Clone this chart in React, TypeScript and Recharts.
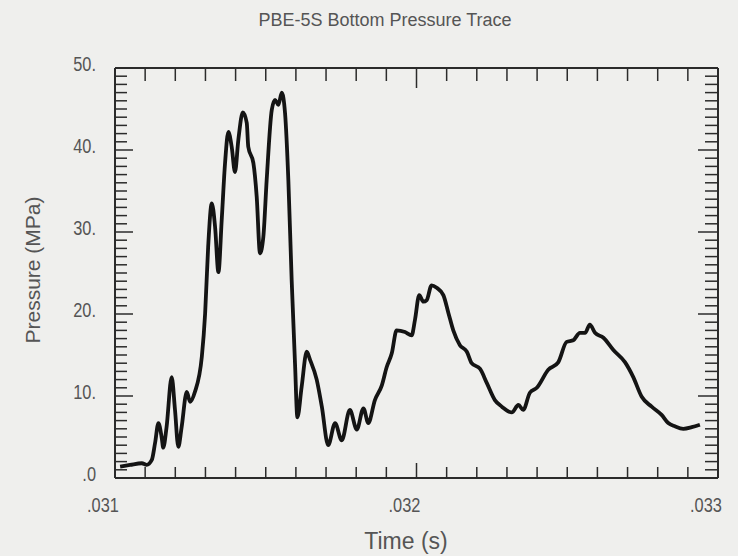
import { LineChart, Line, XAxis, YAxis } from 'recharts';

// trace: time (s) vs bottom pressure (MPa)
const timeS = [
  0.031017, 0.03105, 0.031089, 0.031105, 0.031122, 0.031133, 0.031144, 0.031155, 0.03116, 0.031171,
  0.031188, 0.031199, 0.03121, 0.031221, 0.031238, 0.031249, 0.031265, 0.031288, 0.031299, 0.031309,
  0.031321, 0.031332, 0.031343, 0.031354, 0.031365, 0.031376, 0.031387, 0.031398, 0.031409, 0.031424,
  0.031437, 0.031442, 0.031459, 0.03147, 0.031481, 0.031492, 0.031503, 0.03152, 0.031531, 0.031542,
  0.031553, 0.031564, 0.031575, 0.031586, 0.031597, 0.031605, 0.031619, 0.031636, 0.031647, 0.031669,
  0.031686, 0.031707, 0.03173, 0.031752, 0.031779, 0.031802, 0.031824, 0.03184, 0.031862, 0.031885,
  0.031901, 0.031918, 0.031934, 0.031962, 0.031984, 0.031995, 0.032009, 0.032023, 0.032034, 0.03205,
  0.032067, 0.032089, 0.032106, 0.032122, 0.032144, 0.032167, 0.032183, 0.032211, 0.032233, 0.03226,
  0.032283, 0.032316, 0.032338, 0.032354, 0.032376, 0.032399, 0.032437, 0.03247, 0.032498, 0.03252,
  0.032542, 0.032559, 0.032575, 0.032592, 0.03262, 0.032653, 0.032692, 0.032719, 0.032747, 0.03278,
  0.032813, 0.032835, 0.032857, 0.032885, 0.032913, 0.03294,
];

const pressureMPa = [
  1.4, 1.6, 1.8, 1.6, 2.2, 4.3, 6.7, 4.9, 3.7, 6.2,
  12.3, 8.3, 3.8, 6.2, 10.5, 9.3, 10.5, 14.8, 20.1, 28.2,
  33.5, 30.6, 25.1, 31.5, 38.4, 42.2, 40.4, 37.3, 41.2, 44.6,
  43.3, 40.4, 38.4, 34.3, 27.4, 29.4, 36.3, 44.9, 46.1, 45.5,
  47.0, 44.5, 36.3, 24.1, 14.0, 7.4, 11.1, 15.4, 14.4, 12.0,
  8.7, 4.0, 6.7, 4.6, 8.3, 5.9, 8.5, 6.7, 9.5, 11.3,
  13.5, 15.2, 18.0, 17.8, 17.4, 19.3, 22.3, 21.5, 21.7, 23.5,
  23.2, 22.3, 20.1, 18.0, 16.2, 15.4, 14.0, 13.3, 11.6, 9.5,
  8.7, 8.0, 8.9, 8.3, 10.4, 11.0, 13.2, 14.1, 16.6, 16.8,
  17.7, 17.7, 18.7, 17.7, 17.1, 15.6, 14.1, 12.3, 9.9, 8.7,
  7.7, 6.7, 6.3, 6.0, 6.2, 6.5,
];

const xTicks = [
  0.031, 0.0311, 0.0312, 0.0313, 0.0314, 0.0315, 0.0316, 0.0317, 0.0318, 0.0319, 0.032,
  0.0321, 0.0322, 0.0323, 0.0324, 0.0325, 0.0326, 0.0327, 0.0328, 0.0329, 0.033,
];
const xLabelTicks = [0.031, 0.032, 0.033];
const xLabels = ['.031', '.032', '.033'];

const yTicks = [
  0, 1, 2, 3, 4, 5, 6, 7, 8, 9, 10, 11, 12, 13, 14, 15, 16, 17, 18, 19, 20, 21, 22, 23, 24, 25,
  26, 27, 28, 29, 30, 31, 32, 33, 34, 35, 36, 37, 38, 39, 40, 41, 42, 43, 44, 45, 46, 47, 48, 49, 50,
];
const yLabelTicks = [0, 10, 20, 30, 40, 50];
const yLabels = ['.0', '10.', '20.', '30.', '40.', '50.'];

const data = timeS.map((t, i) => ({ t, p: pressureMPa[i] }));

const INK = '#2b2b2b';
const TEXT = '#555555';
const FONT = "'Liberation Sans', Arial, sans-serif";

const xLabelIndex = (v: number) => xLabelTicks.findIndex((m) => Math.abs(m - v) < 1e-9);
const yLabelIndex = (v: number) => yLabelTicks.indexOf(v);

// the scanned tick labels use a tall condensed face; squeeze a regular one
function NarrowText({ x, y, anchor, children }: { x: number; y: number; anchor: 'middle' | 'end'; children: string }) {
  return (
    <text
      transform={`translate(${x},${y}) scale(0.78,1)`}
      textAnchor={anchor}
      fill={TEXT}
      fontSize={21}
      fontFamily={FONT}
    >
      {children}
    </text>
  );
}

function BottomTick(props: any) {
  const { x, y, payload } = props;
  const idx = xLabelIndex(payload.value);
  const len = idx === 1 ? 15 : 11;
  return (
    <g>
      <line x1={x} y1={y} x2={x} y2={y - len} stroke={INK} strokeWidth={1.5} />
      {idx >= 0 && (
        <NarrowText x={x - 12} y={y + 34} anchor="middle">
          {xLabels[idx]}
        </NarrowText>
      )}
    </g>
  );
}

function TopTick(props: any) {
  const { x, y, payload } = props;
  const len = xLabelIndex(payload.value) === 1 ? 20 : 13;
  return <line x1={x} y1={y} x2={x} y2={y + len} stroke={INK} strokeWidth={1.5} />;
}

function LeftTick(props: any) {
  const { x, y, payload } = props;
  const idx = yLabelIndex(payload.value);
  const len = idx >= 0 ? 18 : 12;
  return (
    <g>
      <line x1={x} y1={y} x2={x + len} y2={y} stroke={INK} strokeWidth={1.5} />
      {idx >= 0 && (
        <NarrowText x={x - 19} y={y + 3} anchor="end">
          {yLabels[idx]}
        </NarrowText>
      )}
    </g>
  );
}

function RightTick(props: any) {
  const { x, y, payload } = props;
  const len = yLabelIndex(payload.value) >= 0 ? 20 : 13;
  return <line x1={x} y1={y} x2={x - len} y2={y} stroke={INK} strokeWidth={1.5} />;
}

export default function App() {
  return (
    <div
      style={{
        position: 'fixed',
        left: 0,
        top: 0,
        width: 738,
        height: 556,
        background: '#efefed',
        fontFamily: FONT,
        color: TEXT,
      }}
    >
      <div style={{ position: 'absolute', top: 10, left: 0, width: 770, textAlign: 'center', fontSize: 18 }}>
        PBE-5S Bottom Pressure Trace
      </div>
      <div
        style={{
          position: 'absolute',
          left: 33,
          top: 270,
          fontSize: 21,
          whiteSpace: 'nowrap',
          transform: 'translate(-50%, -50%) rotate(-90deg)',
        }}
      >
        Pressure (MPa)
      </div>
      <div
        style={{
          position: 'absolute',
          left: 406,
          top: 541,
          fontSize: 23,
          whiteSpace: 'nowrap',
          transform: 'translate(-50%, -50%)',
        }}
      >
        Time (s)
      </div>
      <div style={{ position: 'absolute', left: 0, top: 0 }}>
        <LineChart width={738} height={556} data={data} margin={{ top: 67, right: 19, bottom: 77, left: 114 }}>
          <XAxis
            dataKey="t"
            type="number"
            domain={[0.031, 0.033]}
            allowDataOverflow
            ticks={xTicks}
            interval={0}
            height={1}
            tickSize={0}
            tickMargin={0}
            tickLine={false}
            tick={BottomTick}
            axisLine={{ stroke: INK, strokeWidth: 2 }}
          />
          <XAxis
            xAxisId="top"
            orientation="top"
            dataKey="t"
            type="number"
            domain={[0.031, 0.033]}
            allowDataOverflow
            ticks={xTicks}
            interval={0}
            height={1}
            tickSize={0}
            tickMargin={0}
            tickLine={false}
            tick={TopTick}
            axisLine={{ stroke: INK, strokeWidth: 2 }}
          />
          <YAxis
            type="number"
            domain={[0, 50]}
            allowDataOverflow
            ticks={yTicks}
            interval={0}
            width={1}
            tickSize={0}
            tickMargin={0}
            tickLine={false}
            tick={LeftTick}
            axisLine={{ stroke: INK, strokeWidth: 2 }}
          />
          <YAxis
            yAxisId="right"
            orientation="right"
            type="number"
            domain={[0, 50]}
            allowDataOverflow
            ticks={yTicks}
            interval={0}
            width={1}
            tickSize={0}
            tickMargin={0}
            tickLine={false}
            tick={RightTick}
            axisLine={{ stroke: INK, strokeWidth: 2 }}
          />
          <Line
            dataKey="p"
            type="monotoneX"
            stroke="#141414"
            strokeWidth={3.8}
            strokeLinejoin="round"
            dot={false}
            isAnimationActive={false}
          />
        </LineChart>
      </div>
    </div>
  );
}
